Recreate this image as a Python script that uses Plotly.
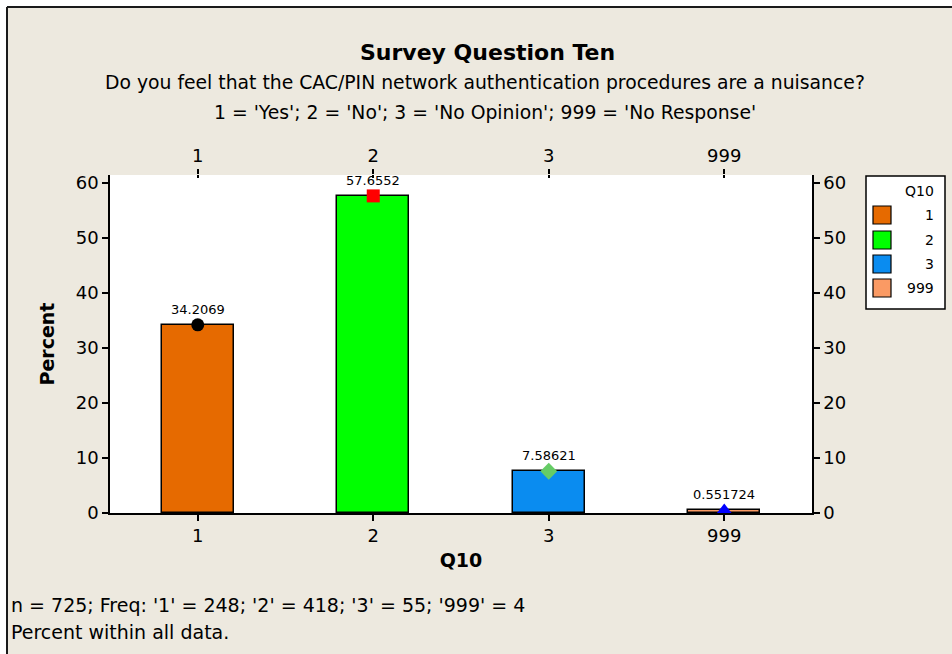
import plotly.graph_objects as go

categories = ["1", "2", "3", "999"]
percents = [34.2069, 57.6552, 7.58621, 0.551724]
value_labels = ["34.2069", "57.6552", "7.58621", "0.551724"]
bar_colors = ["#E66A00", "#00FF00", "#0A8CF0", "#FA9A64"]
marker_symbols = ["circle", "square", "diamond", "triangle-up"]
marker_colors = ["#000000", "#FF0000", "#66CC66", "#0000FF"]
y_ticks = [0, 10, 20, 30, 40, 50, 60]

W, H = 952, 654
L, R, T, B = 110, 812, 175, 513
FONT = "DejaVu Sans"


def px(x):
    return (x - L) / (R - L)


def py(y):
    return (B - y) / (B - T)


fig = go.Figure()
fig.add_trace(go.Bar(
    x=categories, y=percents, width=0.41,
    marker=dict(color=bar_colors, line=dict(color="black", width=1.5)),
    showlegend=False, hoverinfo="skip",
))
fig.add_trace(go.Scatter(
    x=categories, y=percents, mode="markers",
    marker=dict(symbol=marker_symbols, color=marker_colors, size=13, line=dict(width=0)),
    showlegend=False, hoverinfo="skip",
))
# invisible traces for the top and right axes
fig.add_trace(go.Scatter(x=categories, y=percents, xaxis="x2", yaxis="y2",
                         mode="markers", marker=dict(opacity=0), showlegend=False,
                         hoverinfo="skip"))
fig.add_trace(go.Scatter(x=categories, y=percents, xaxis="x3", yaxis="y2",
                         mode="markers", marker=dict(opacity=0), showlegend=False,
                         hoverinfo="skip"))

for i, (v, t) in enumerate(zip(percents, value_labels)):
    fig.add_annotation(x=i, y=v, text=t, showarrow=False, yanchor="bottom",
                       yshift=6, font=dict(family=FONT, size=13, color="black"))

yrange = [0, (B - T) / 5.5]
tickfont = dict(family=FONT, size=18, color="black")
cat_axis = dict(type="category", categoryorder="array", categoryarray=categories,
                range=[-0.5, 3.5], showgrid=False, zeroline=False,
                tickcolor="black", tickwidth=1.5, tickfont=tickfont)
fig.update_layout(
    width=W, height=H,
    margin=dict(l=L, r=W - R, t=T, b=H - B),
    paper_bgcolor="#EDE9DF", plot_bgcolor="white",
    bargap=0,
    xaxis=dict(**cat_axis, showline=True, linecolor="black", linewidth=1.5,
               ticks="outside", ticklen=6,
               title=dict(text="<b>Q10</b>", font=dict(family=FONT, size=19, color="black"),
                          standoff=8)),
    xaxis2=dict(**cat_axis, overlaying="x", side="top", showline=False,
                ticks="outside", ticklen=5),
    xaxis3=dict(**cat_axis, overlaying="x", side="top", showline=False,
                ticks="inside", ticklen=3, showticklabels=False),
    yaxis=dict(range=yrange, tickvals=y_ticks, showline=True, linecolor="black",
               linewidth=1.5, ticks="outside", ticklen=6, tickcolor="black",
               tickwidth=1.5, tickfont=tickfont, showgrid=False, zeroline=False,
               title=dict(text="<b>Percent</b>", font=dict(family=FONT, size=19, color="black"),
                          standoff=16)),
    yaxis2=dict(range=yrange, tickvals=y_ticks, overlaying="y", side="right",
                showline=True, linecolor="black", linewidth=1.5, ticks="outside",
                ticklen=6, tickcolor="black", tickwidth=1.5, tickfont=tickfont,
                showgrid=False, zeroline=False),
)

# frame: white outside strip + black top/left edges
fig.add_shape(type="rect", xref="paper", yref="paper", x0=px(0), x1=px(W), y0=py(0), y1=py(6.5),
              fillcolor="white", line=dict(width=0))
fig.add_shape(type="rect", xref="paper", yref="paper", x0=px(0), x1=px(6.5), y0=py(0), y1=py(H),
              fillcolor="white", line=dict(width=0))
fig.add_shape(type="line", xref="paper", yref="paper", x0=px(7), x1=px(W), y0=py(7), y1=py(7),
              line=dict(color="#1a1a1a", width=2))
fig.add_shape(type="line", xref="paper", yref="paper", x0=px(7), x1=px(7), y0=py(7), y1=py(H),
              line=dict(color="#1a1a1a", width=2))


def note(x, y, text, size, xanchor="center", bold=False):
    fig.add_annotation(xref="paper", yref="paper", x=px(x), y=py(y), xanchor=xanchor,
                       yanchor="middle", text=f"<b>{text}</b>" if bold else text,
                       showarrow=False, font=dict(family=FONT, size=size, color="black"))


# titles
note(487, 52, "Survey Question Ten", 22, bold=True)
note(485, 83, "Do you feel that the CAC/PIN network authentication procedures are a nuisance?", 18.8)
note(485, 112, "1 = 'Yes'; 2 = 'No'; 3 = 'No Opinion'; 999 = 'No Response'", 18.8)

# footer
note(9, 605, "n = 725; Freq: '1' = 248; '2' = 418; '3' = 55; '999' = 4", 19, xanchor="left")
note(9, 632, "Percent within all data.", 19, xanchor="left")

# custom legend
fig.add_shape(type="rect", xref="paper", yref="paper", x0=px(866), x1=px(945), y0=py(309), y1=py(176),
              fillcolor="white", line=dict(color="black", width=1.5))
note(936, 191, "Q10", 14, xanchor="right")
leg_y = [215, 240, 264, 288]
for c, col, yy in zip(categories, bar_colors, leg_y):
    fig.add_shape(type="rect", xref="paper", yref="paper", x0=px(873), x1=px(891),
                  y0=py(yy + 9), y1=py(yy - 9), fillcolor=col, line=dict(color="black", width=1.2))
    note(936, yy, c, 14, xanchor="right")

fig.write_html("out.html", post_script="document.body.style.margin='0';",
               config={"displayModeBar": False})
